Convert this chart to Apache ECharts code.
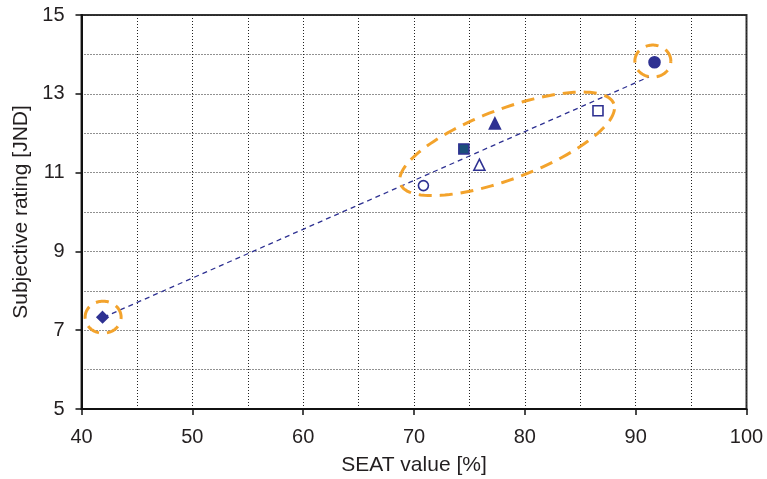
<!DOCTYPE html>
<html>
<head>
<meta charset="utf-8">
<script src="https://cdn.jsdelivr.net/npm/echarts@6/dist/echarts.min.js"></script>
<style>html,body{margin:0;padding:0;background:#fff;}#c{width:767px;height:479px;}</style>
</head>
<body>
<div id="c"></div>
<script>
// Data
const pointNames = ['diamond', 'openCircle', 'filledSquare', 'openTriangle', 'filledTriangle', 'openSquare', 'filledCircle'];
const seatX = [41.9, 70.85, 74.5, 75.9, 77.3, 86.6, 91.7];
const ratingY = [7.33, 10.67, 11.6, 11.2, 12.25, 12.57, 13.8];
const trendX = [42.0, 91.2];
const trendY = [7.33, 13.43];
const ellipseX = [41.95, 78.4, 91.55];
const ellipseY = [7.33, 11.73, 13.83];
const xTicks = [40, 50, 60, 70, 80, 90, 100];
const yTicks = [5, 7, 9, 11, 13, 15];

const navy = '#2e3192';
const orange = '#f3a32c';
const symbolDefs = {
  diamond: {symbol: 'diamond', size: 11, fill: navy},
  openCircle: {symbol: 'circle', size: 10, fill: '#fff'},
  filledSquare: {symbol: 'rect', size: 10, fill: '#1b4f7a'},
  openTriangle: {symbol: 'triangle', size: 11, fill: '#fff'},
  filledTriangle: {symbol: 'triangle', size: 11, fill: navy},
  openSquare: {symbol: 'rect', size: 10, fill: '#fff'},
  filledCircle: {symbol: 'circle', size: 11, fill: navy}
};
const ellipseShapes = [
  {rx: 18, ry: 16, rot: 0},
  {rx: 114, ry: 35, rot: 20.6},
  {rx: 18, ry: 16, rot: 0}
];

const font = '"Liberation Sans", Arial, sans-serif';
const chart = echarts.init(document.getElementById('c'));

const series = [];
series.push({
  type: 'line',
  data: trendX.map((x, i) => [x, trendY[i]]),
  symbol: 'none',
  lineStyle: {color: navy, width: 1.3, type: [5, 4]},
  z: 3,
  silent: true
});
series.push({
  type: 'custom',
  data: ellipseX.map((x, i) => [x, ellipseY[i]]),
  encode: {x: 0, y: 1},
  z: 4,
  silent: true,
  renderItem: function (params, api) {
    const c = api.coord([api.value(0), api.value(1)]);
    const s = ellipseShapes[params.dataIndex];
    const th = s.rot * Math.PI / 180;
    const pts = [];
    const n = 120;
    for (let k = 0; k <= n; k++) {
      const t = 2 * Math.PI * k / n;
      const ex = s.rx * Math.cos(t), ey = s.ry * Math.sin(t);
      pts.push([c[0] + ex * Math.cos(th) - ey * Math.sin(th), c[1] - (ex * Math.sin(th) + ey * Math.cos(th))]);
    }
    return {type: 'polyline', shape: {points: pts}, style: {stroke: orange, lineWidth: 3, lineDash: [13, 8], fill: null}};
  }
});
pointNames.forEach((name, i) => {
  const d = symbolDefs[name];
  series.push({
    type: 'scatter',
    name: name,
    data: [[seatX[i], ratingY[i]]],
    symbol: d.symbol,
    symbolSize: d.size,
    itemStyle: {color: d.fill, borderColor: navy, borderWidth: 1.6, opacity: 1},
    z: 5
  });
});

const gridDots = {color: '#222', width: 1, type: [1, 2]};
chart.setOption({
  animation: false,
  backgroundColor: '#fff',
  grid: {left: 81.5, right: 20.5, top: 15, bottom: 70, containLabel: false, outerBoundsMode: 'none',
    show: true, borderColor: '#333', borderWidth: 2, backgroundColor: 'transparent'},
  xAxis: {
    type: 'value', min: 40, max: 100, interval: 10,
    name: 'SEAT value [%]', nameLocation: 'middle', nameGap: 46,
    nameTextStyle: {fontFamily: font, fontSize: 21, color: '#231f20'},
    axisLine: {show: true, onZero: false, lineStyle: {color: '#111', width: 2}},
    axisTick: {show: true, inside: false, length: 6, lineStyle: {color: '#111', width: 1.5}},
    axisLabel: {fontFamily: font, fontSize: 20, color: '#231f20', margin: 18,
      formatter: v => xTicks.includes(v) ? String(v) : ''},
    splitLine: {show: true, lineStyle: gridDots},
    minorTick: {show: false, splitNumber: 2},
    minorSplitLine: {show: true, lineStyle: gridDots}
  },
  yAxis: {
    type: 'value', min: 5, max: 15, interval: 2,
    name: 'Subjective rating [JND]', nameLocation: 'middle', nameGap: 48, nameRotate: 90,
    nameTextStyle: {fontFamily: font, fontSize: 21, color: '#231f20'},
    axisLine: {show: true, onZero: false, lineStyle: {color: '#111', width: 2}},
    axisTick: {show: true, inside: false, length: 6, lineStyle: {color: '#111', width: 1.5}},
    axisLabel: {fontFamily: font, fontSize: 20, color: '#231f20', margin: 17,
      formatter: v => yTicks.includes(v) ? String(v) : ''},
    splitLine: {show: true, lineStyle: gridDots},
    minorTick: {show: false, splitNumber: 2},
    minorSplitLine: {show: true, lineStyle: gridDots}
  },
  series: series
});
</script>
</body>
</html>
